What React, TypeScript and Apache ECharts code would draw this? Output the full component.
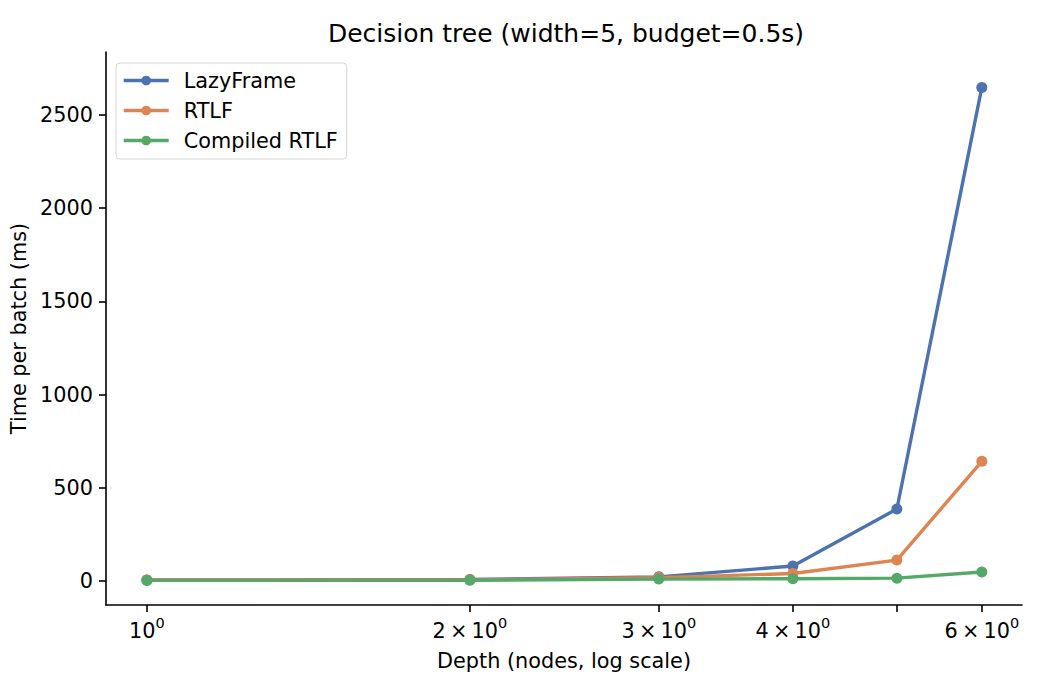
import React, { useEffect, useRef } from "react";
import * as echarts from "echarts";

const depths = [1, 2, 3, 4, 5, 6];
const lazyFrame = [5, 8, 22, 80, 386, 2648];
const rtlf = [5, 6, 18, 40, 112, 642];
const compiledRtlf = [3, 4, 10, 12, 15, 48];
const tickDepths = [1, 2, 3, 4, 5, 6];
const labelDepths = [1, 2, 3, 4, 6];
const yTicks = [0, 500, 1000, 1500, 2000, 2500];

const FONT = "DejaVu Sans";
const FS = 20.8;
const lg = (v: number) => Math.log10(v);

function depthLabel(v: number) {
  const d = Math.round(Math.pow(10, v));
  return d === 1 ? "{b|10}{s|0}" : `{b|${d}\u2009×\u200910}{s|0}`;
}

export default function App() {
  const ref = useRef<HTMLDivElement>(null);

  useEffect(() => {
    document.body.style.margin = "0";
    if (!ref.current) return;
    const chart = echarts.init(ref.current, undefined, { renderer: "svg" });
    const mk = (name: string, values: number[], color: string) => ({
      name,
      type: "line" as const,
      data: depths.map((d, i) => [lg(d), values[i]]),
      symbol: "circle",
      symbolSize: 11,
      lineStyle: { width: 3.4, color },
      itemStyle: { color },
    });
    const option: echarts.EChartsOption = {
      animation: false,
      textStyle: { fontFamily: FONT },
      title: {
        text: "Decision tree (width=5, budget=0.5s)",
        left: 561,
        top: 16,
        textAlign: "center",
        textStyle: { fontFamily: FONT, fontSize: 25, fontWeight: "normal", color: "#000" },
      },
      legend: {
        left: 116,
        top: 63,
        orient: "vertical",
        itemWidth: 45,
        itemHeight: 12,
        itemGap: 9,
        padding: [7, 9, 8, 6],
        backgroundColor: "#fff",
        borderColor: "#d5d5d5",
        borderWidth: 1,
        borderRadius: 4,
        lineStyle: { width: 3.4 },
        textStyle: { fontFamily: FONT, fontSize: FS, color: "#000", padding: [0, 0, 0, 10] },
        data: ["LazyFrame", "RTLF", "Compiled RTLF"],
      },
      grid: { left: 106, right: 28, top: 52, bottom: 95 },
      xAxis: {
        type: "value",
        min: lg(0.916),
        max: lg(6.54),
        name: "Depth (nodes, log scale)",
        nameLocation: "middle",
        nameGap: 45,
        nameTextStyle: { fontFamily: FONT, fontSize: FS, color: "#000" },
        axisLine: { onZero: false, lineStyle: { color: "#000", width: 1.6 } },
        axisTick: {
          show: true,
          length: 7,
          lineStyle: { color: "#000", width: 1.6 },
          customValues: tickDepths.map(lg),
        },
        axisLabel: {
          fontFamily: FONT,
          color: "#000",
          margin: 10,
          customValues: labelDepths.map(lg),
          formatter: (v: number) => depthLabel(v),
          rich: {
            b: { fontFamily: FONT, fontSize: FS, color: "#000", verticalAlign: "bottom", lineHeight: 26 },
            s: { fontFamily: FONT, fontSize: 14.5, color: "#000", verticalAlign: "top", lineHeight: 26, padding: [0, 0, 12, 0] },
          },
        },
        splitLine: { show: false },
      },
      yAxis: {
        type: "value",
        min: -129,
        max: 2838,
        name: "Time per batch (ms)",
        nameLocation: "middle",
        nameGap: 74,
        nameTextStyle: { fontFamily: FONT, fontSize: FS, color: "#000" },
        axisLine: { show: true, onZero: false, lineStyle: { color: "#000", width: 1.6 } },
        axisTick: {
          show: true,
          length: 7,
          lineStyle: { color: "#000", width: 1.6 },
          customValues: yTicks,
        },
        axisLabel: {
          fontFamily: FONT,
          fontSize: FS,
          color: "#000",
          margin: 13,
          customValues: yTicks,
          formatter: (v: number) => String(v),
        },
        splitLine: { show: false },
      },
      series: [
        mk("LazyFrame", lazyFrame, "#4C72B0"),
        mk("RTLF", rtlf, "#DD8452"),
        mk("Compiled RTLF", compiledRtlf, "#55A868"),
      ],
    };
    chart.setOption(option);
    return () => chart.dispose();
  }, []);

  return <div ref={ref} style={{ width: 1050, height: 700 }} />;
}
